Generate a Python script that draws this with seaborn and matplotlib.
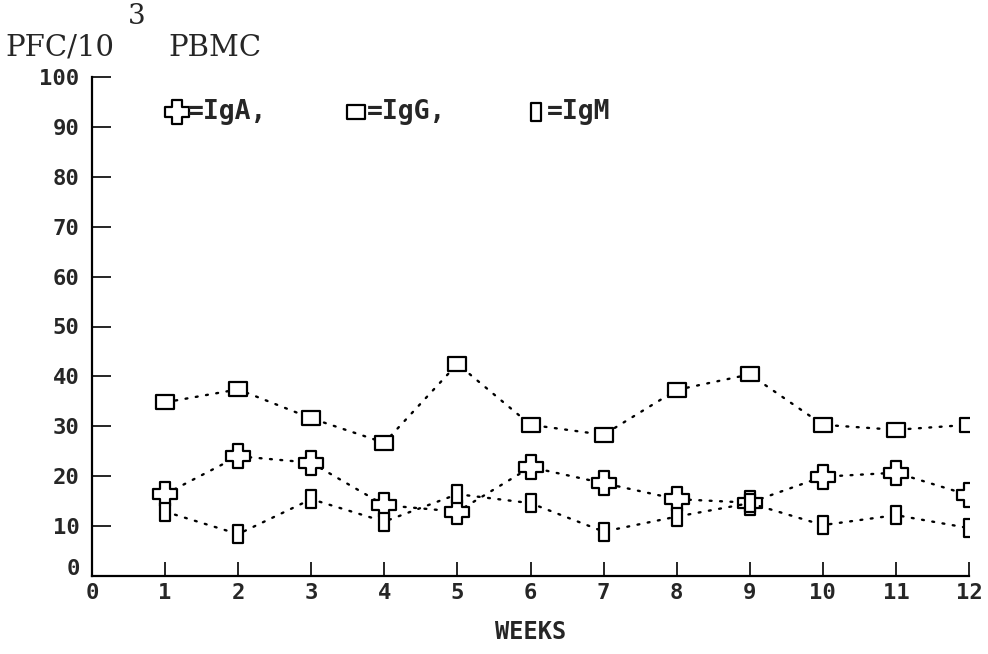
import numpy as np
import pandas as pd
import matplotlib
matplotlib.use("Agg")
import matplotlib.pyplot as plt
from matplotlib.path import Path
import matplotlib.transforms as mtransforms
import seaborn as sns

weeks = [1, 2, 3, 4, 5, 6, 7, 8, 9, 10, 11, 12]
iga = [16.4, 24.0, 22.7, 14.2, 12.9, 21.8, 18.6, 15.4, 14.7, 19.9, 20.7, 16.2]
igg = [34.8, 37.4, 31.6, 26.7, 42.5, 30.3, 28.3, 37.3, 40.4, 30.3, 29.3, 30.3]
igm = [12.9, 8.4, 15.4, 10.9, 16.4, 14.6, 8.9, 11.9, 14.6, 10.2, 12.2, 9.6]
series_names = ["IgA", "IgG", "IgM"]
x_ticks = list(range(0, 13))
y_ticks = list(range(0, 101, 10))

sns.set_style("white")
plt.rcParams['font.family'] = ['DejaVu Sans Mono', 'DejaVu Sans']
plt.rcParams['xtick.direction'] = 'in'
plt.rcParams['ytick.direction'] = 'in'

# marker shapes
a = 0.23
cross = Path([(-a, 0.5), (a, 0.5), (a, a), (0.5, a), (0.5, -a), (a, -a), (a, -0.5),
              (-a, -0.5), (-a, -a), (-0.5, -a), (-0.5, a), (-a, a), (-a, 0.5)], closed=True)
sq = Path([(-0.5, -0.39), (0.5, -0.39), (0.5, 0.39), (-0.5, 0.39), (-0.5, -0.39)], closed=True)
rect = Path([(-0.29, -0.5), (0.29, -0.5), (0.29, 0.5), (-0.29, 0.5), (-0.29, -0.5)], closed=True)

markers = {"IgA": (cross, 17), "IgG": (sq, 13.5), "IgM": (rect, 13.5)}
values = {"IgA": iga, "IgG": igg, "IgM": igm}

fig = plt.figure(figsize=(9.88, 6.54), dpi=100)
ax = fig.add_axes([92/988, 1-576/654, (969-92)/988, (576-77)/654])

for name in ["IgA", "IgM", "IgG"]:
    df = pd.DataFrame({"week": weeks, "val": values[name]})
    m, ms = markers[name]
    sns.lineplot(data=df, x="week", y="val", ax=ax, color="black",
                 linestyle=(0, (0.8, 3.6)), linewidth=1.7, dash_capstyle="round",
                 marker=m, markersize=ms, markerfacecolor="white",
                 markeredgecolor="black", markeredgewidth=1.6)

ax.set_xlim(0, 12)
ax.set_ylim(0, 100)
ax.set_xticks(x_ticks)
ax.set_yticks(y_ticks)
ax.set_xticklabels([str(t) for t in x_ticks], fontsize=16, fontweight="bold")
ax.set_yticklabels([str(t) for t in y_ticks], fontsize=16, fontweight="bold")
ax.tick_params(axis="y", which="major", left=True, direction="in", length=14, width=1.2, pad=9, color="black")
ax.tick_params(axis="x", which="major", bottom=True, direction="in", length=10, width=1.2, pad=5, color="black")
for s in ["top", "right"]:
    ax.spines[s].set_visible(False)
for s in ["left", "bottom"]:
    ax.spines[s].set_color("black")
    ax.spines[s].set_linewidth(1.6)
ax.set_xlabel("WEEKS", fontsize=17, fontweight="bold", labelpad=12)
ax.set_ylabel("")

# lift the y "0" label a bit
lbl0 = ax.get_yticklabels()[0]
lbl0.set_transform(lbl0.get_transform() + mtransforms.ScaledTranslation(0, 9/100, fig.dpi_scale_trans))

# y-axis title
fig.text(5/988, 1-48/654, "PFC/10", fontsize=21, family="DejaVu Serif", va="center", ha="left")
fig.text(128/988, 1-17/654, "3", fontsize=20, family="DejaVu Serif", va="center", ha="left")
fig.text(168/988, 1-48/654, "PBMC", fontsize=21, family="DejaVu Serif", va="center", ha="left")

# legend line
ly = 1-112/654
leg = [(177, cross, 17, "=IgA,", 188), (356, sq, 13.5, "=IgG,", 367), (536, rect, 13.5, "=IgM", 547)]
for mx, m, ms, txt, tx in leg:
    fig.lines.append(plt.Line2D([mx/988], [ly], transform=fig.transFigure, marker=m,
                                markersize=ms, markerfacecolor="white", markeredgecolor="black",
                                markeredgewidth=1.6, linestyle="none"))
    fig.text(tx/988, ly, txt, fontsize=19, fontweight="bold", va="center", ha="left")

fig.savefig("out.png", dpi=100)
